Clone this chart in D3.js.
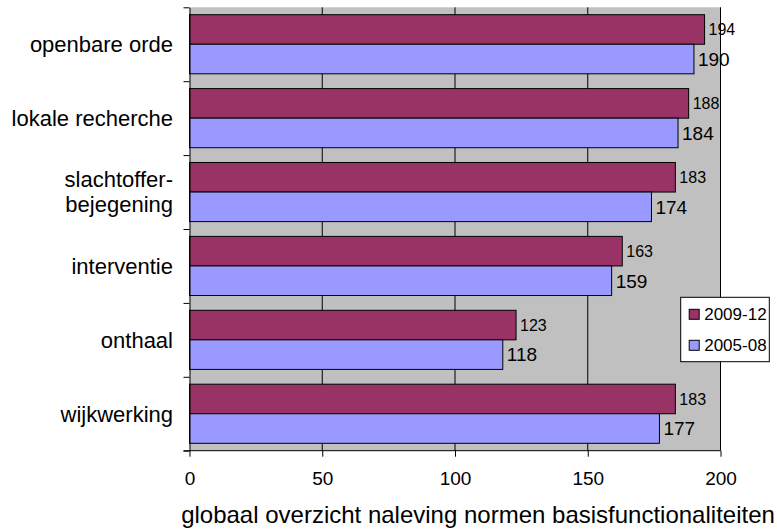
<!DOCTYPE html>
<html>
<head>
<meta charset="utf-8">
<script src="https://cdn.jsdelivr.net/npm/d3@7"></script>
<style>
  body { margin: 0; background: #fff; }
  svg { font-family: "Liberation Sans", Arial, sans-serif; }
</style>
</head>
<body>
<div id="chart"></div>
<script>
// categories from top to bottom, as drawn
const categories = ["openbare orde", "lokale recherche", "slachtoffer-\nbejegening", "interventie", "onthaal", "wijkwerking"];
const seriesNames = ["2009-12", "2005-08"];
const values2009 = [194, 188, 183, 163, 123, 183];
const values2005 = [190, 184, 174, 159, 118, 177];
const xTicks = [0, 50, 100, 150, 200];
const xTitle = "globaal overzicht naleving normen basisfunctionaliteiten";

const w = 777, h = 529;
const plot = {left: 189.5, right: 720.5, top: 7.3, bottom: 450.7};

const colors = {"2009-12": "#993366", "2005-08": "#9999FF"};

const svg = d3.select("#chart").append("svg")
    .attr("width", w)
    .attr("height", h);

let x = d3.scaleLinear().domain([0, 200]).range([plot.left, plot.right]);

let y = d3.scaleBand()
    .domain(categories)
    .range([plot.top, plot.bottom])
    .paddingInner(0.2)
    .paddingOuter(0.1);

let ySub = d3.scaleBand().domain(seriesNames).range([0, y.bandwidth()]);

// plot background
svg.append("rect")
    .attr("x", plot.left).attr("y", plot.top)
    .attr("width", plot.right - plot.left)
    .attr("height", plot.bottom - plot.top)
    .attr("fill", "#C0C0C0");

// vertical gridlines
svg.append("g")
    .selectAll("line")
    .data(xTicks.filter(d => d > 0))
    .enter().append("line")
    .attr("x1", d => x(d)).attr("x2", d => x(d))
    .attr("y1", plot.top).attr("y2", plot.bottom)
    .attr("stroke", "#000")
    .attr("stroke-width", 1);

let rows = categories.map((c, i) => ({cat: c, vals: [
    {series: "2009-12", value: values2009[i]},
    {series: "2005-08", value: values2005[i]}
]}));

let groups = svg.append("g").selectAll("g.cat")
    .data(rows)
    .enter().append("g")
    .attr("class", "cat")
    .attr("transform", d => "translate(0," + y(d.cat) + ")");

groups.selectAll("rect")
    .data(d => d.vals)
    .enter().append("rect")
    .attr("x", x(0))
    .attr("y", d => ySub(d.series))
    .attr("width", d => x(d.value) - x(0))
    .attr("height", ySub.bandwidth())
    .attr("fill", d => colors[d.series])
    .attr("stroke", "#000")
    .attr("stroke-width", 1);

groups.selectAll("text")
    .data(d => d.vals)
    .enter().append("text")
    .attr("x", d => x(d.value) + 4)
    .attr("y", d => ySub(d.series) + ySub.bandwidth() / 2)
    .attr("dy", "0.36em")
    .style("font-size", d => d.series === "2009-12" ? "16px" : "19px")
    .attr("fill", "#000")
    .text(d => d.value);

// category axis: ticks at band boundaries
let yIdx = d3.scaleLinear().domain([0, categories.length]).range([plot.top, plot.bottom]);
svg.append("g")
    .attr("transform", "translate(" + plot.left + ",0)")
    .call(d3.axisLeft(yIdx).tickValues(d3.range(categories.length + 1)).tickFormat("").tickSize(6).tickSizeOuter(0))
    .call(g => g.selectAll("line, path").attr("stroke", "#000"));

// category labels
let catLabels = svg.append("g").selectAll("text")
    .data(categories)
    .enter().append("text")
    .attr("text-anchor", "end")
    .style("font-size", "22px")
    .attr("fill", "#000");

catLabels.each(function (d) {
    let lines = d.split("\n");
    let cy = y(d) + y.bandwidth() / 2;
    let lh = 25;
    d3.select(this).selectAll("tspan")
        .data(lines)
        .enter().append("tspan")
        .attr("x", 173)
        .attr("y", (l, i) => cy + (i - (lines.length - 1) / 2) * lh)
        .attr("dy", "0.36em")
        .text(l => l);
});

// x axis
let xAxis = svg.append("g")
    .attr("transform", "translate(0," + plot.bottom + ")")
    .call(d3.axisBottom(x).tickValues(xTicks).tickSize(6).tickSizeOuter(0).tickPadding(15));
xAxis.selectAll("line, path").attr("stroke", "#000");
xAxis.select(".domain").attr("d", "M" + (plot.left - 6) + ",0H" + plot.right);
xAxis.selectAll("text")
    .style("font-size", "19px")
    .style("font-family", "Liberation Sans, Arial, sans-serif")
    .attr("fill", "#000");

// axis title
svg.append("text")
    .attr("x", 478)
    .attr("y", 523)
    .attr("text-anchor", "middle")
    .style("font-size", "24px")
    .attr("fill", "#000")
    .text(xTitle);

// legend
let legend = svg.append("g").attr("transform", "translate(680.7,297.3)");
legend.append("rect")
    .attr("width", 88.6).attr("height", 64.4)
    .attr("fill", "#fff")
    .attr("stroke", "#000")
    .attr("stroke-width", 1);

let items = legend.selectAll("g.item")
    .data(seriesNames)
    .enter().append("g")
    .attr("class", "item")
    .attr("transform", (d, i) => "translate(8.5," + (12 + i * 31) + ")");

items.append("rect")
    .attr("width", 10).attr("height", 10)
    .attr("fill", d => colors[d])
    .attr("stroke", "#000")
    .attr("stroke-width", 1);

items.append("text")
    .attr("x", 15)
    .attr("y", 5)
    .attr("dy", "0.36em")
    .style("font-size", "17px")
    .attr("fill", "#000")
    .text(d => d);
</script>
</body>
</html>
